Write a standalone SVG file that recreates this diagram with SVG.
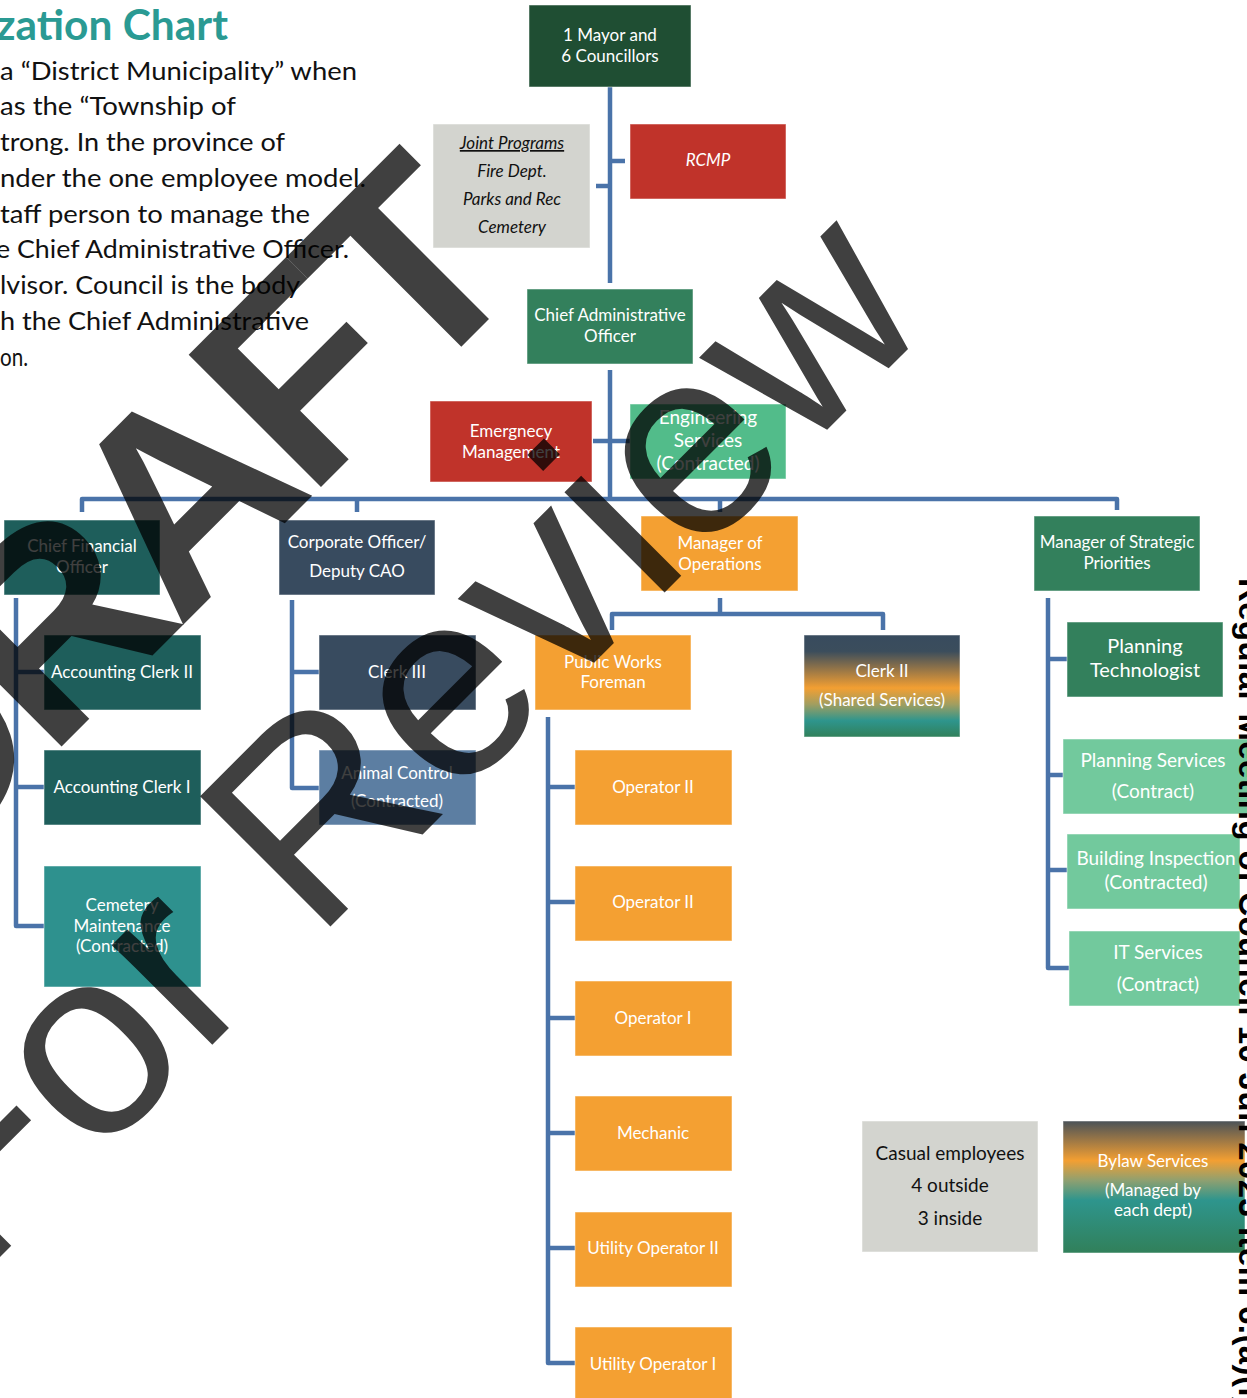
<svg xmlns="http://www.w3.org/2000/svg" width="1247" height="1398" viewBox="0 0 1247 1398">
<style>
.conn{fill:none;stroke:#4A73A9;stroke-width:4.5;stroke-linejoin:round}
.box{stroke:#ffffff;stroke-opacity:0.5;stroke-width:1}
.lbl{font-family:Lato,"Liberation Sans",sans-serif;font-size:17px;fill:#ffffff;text-anchor:middle}
.dark{fill:#111111}
.it{font-style:italic}
.para{font-family:Lato,"Liberation Sans",sans-serif;font-size:25px;fill:#111111}
.wm{font-family:"Liberation Sans",Arial,sans-serif;fill:#000000;fill-opacity:0.75}
</style>
<defs>
<linearGradient id="g-clerk2" x1="0" y1="0" x2="0" y2="1">
<stop offset="0" stop-color="#384B5E"/>
<stop offset="0.16" stop-color="#3B4D5C"/>
<stop offset="0.52" stop-color="#F39F32"/>
<stop offset="0.68" stop-color="#A19E60"/>
<stop offset="0.84" stop-color="#2E958D"/>
<stop offset="1" stop-color="#31805A"/>
</linearGradient>
<linearGradient id="g-bylaw" x1="0" y1="0" x2="0" y2="1">
<stop offset="0" stop-color="#4A5258"/>
<stop offset="0.3" stop-color="#F39F32"/>
<stop offset="0.45" stop-color="#8FA070"/>
<stop offset="0.6" stop-color="#2E958D"/>
<stop offset="1" stop-color="#31805A"/>
</linearGradient>
</defs>
<rect width="1247" height="1398" fill="#ffffff"/>

<g id="intro">
<text x="-4" y="40" textLength="232" lengthAdjust="spacingAndGlyphs" style="font-family:Lato,'Liberation Sans',sans-serif;font-weight:bold;font-size:42px;fill:#2A9A93">zation Chart</text>
<text class="para" x="0" y="80" textLength="357" lengthAdjust="spacingAndGlyphs">a “District Municipality” when</text>
<text class="para" x="0" y="115" textLength="236" lengthAdjust="spacingAndGlyphs">as the “Township of</text>
<text class="para" x="0" y="151" textLength="285" lengthAdjust="spacingAndGlyphs">trong. In the province of</text>
<text class="para" x="0" y="187" textLength="366" lengthAdjust="spacingAndGlyphs">nder the one employee model.</text>
<text class="para" x="0" y="223" textLength="310" lengthAdjust="spacingAndGlyphs">taff person to manage the</text>
<text class="para" x="-4" y="258" textLength="353" lengthAdjust="spacingAndGlyphs">e Chief Administrative Officer.</text>
<text class="para" x="0" y="294" textLength="300" lengthAdjust="spacingAndGlyphs">lvisor. Council is the body</text>
<text class="para" x="0" y="330" textLength="309" lengthAdjust="spacingAndGlyphs">h the Chief Administrative</text>
<text class="para" x="0" y="366" textLength="28" lengthAdjust="spacingAndGlyphs">on.</text>
</g>

<g id="connectors">
<path class="conn" d="M610,87 V283"/>
<path class="conn" d="M610,161 H625"/>
<path class="conn" d="M610,186 H596"/>
<path class="conn" d="M610,370 V499"/>
<path class="conn" d="M593,441 H630"/>
<path class="conn" d="M82,512 V499 H1117 V510"/>
<path class="conn" d="M357,499 V512"/>
<path class="conn" d="M720,499 V512"/>
<path class="conn" d="M16,598 V926 H44"/>
<path class="conn" d="M16,672 H44"/>
<path class="conn" d="M16,787 H44"/>
<path class="conn" d="M292,600 V788 H319"/>
<path class="conn" d="M292,672 H319"/>
<path class="conn" d="M720,598 V614"/>
<path class="conn" d="M612,630 V614 H883 V630"/>
<path class="conn" d="M548,717 V1363 H575"/>
<path class="conn" d="M548,787 H575"/>
<path class="conn" d="M548,902 H575"/>
<path class="conn" d="M548,1018 H575"/>
<path class="conn" d="M548,1133 H575"/>
<path class="conn" d="M548,1248 H575"/>
<path class="conn" d="M1048,598 V968 H1069"/>
<path class="conn" d="M1048,659 H1067"/>
<path class="conn" d="M1048,775 H1063"/>
<path class="conn" d="M1048,870 H1067"/>
</g>

<g id="n-mayor"><rect class="box" x="529" y="5" width="162" height="82" fill="#1F4E33"/>
<text class="lbl" x="610" y="41">1 Mayor and</text><text class="lbl" x="610" y="62">6 Councillors</text></g>

<g id="n-joint"><rect class="box" x="433" y="124" width="157" height="124" fill="#D3D4CF"/>
<text class="lbl dark it" x="512" y="149" text-decoration="underline">Joint Programs</text>
<text class="lbl dark it" x="512" y="177">Fire Dept.</text>
<text class="lbl dark it" x="512" y="205">Parks and Rec</text>
<text class="lbl dark it" x="512" y="233">Cemetery</text></g>

<g id="n-rcmp"><rect class="box" x="630" y="124" width="156" height="75" fill="#C0332A"/>
<text class="lbl it" x="708" y="166">RCMP</text></g>

<g id="n-cao"><rect class="box" x="527" y="289" width="166" height="75" fill="#33805C"/>
<text class="lbl" x="610" y="321">Chief Administrative</text><text class="lbl" x="610" y="342">Officer</text></g>

<g id="n-emergency"><rect class="box" x="430" y="401" width="162" height="81" fill="#C0332A"/>
<text class="lbl" x="511" y="437">Emergnecy</text><text class="lbl" x="511" y="458">Management</text></g>

<g id="n-engineering"><rect class="box" x="630" y="404" width="156" height="75" fill="#52BC8A"/>
<text class="lbl" x="708" y="424" style="font-size:19px">Engineering</text>
<text class="lbl" x="708" y="447" style="font-size:19px">Services</text>
<text class="lbl" x="708" y="470" style="font-size:19px">(Contracted)</text></g>

<g id="n-cfo"><rect class="box" x="4" y="520" width="156" height="75" fill="#1E5E5B"/>
<text class="lbl" x="82" y="552">Chief Financial</text><text class="lbl" x="82" y="573">Officer</text></g>

<g id="n-corporate"><rect class="box" x="279" y="520" width="156" height="75" fill="#384B5F"/>
<text class="lbl" x="357" y="548">Corporate Officer/</text><text class="lbl" x="357" y="577">Deputy CAO</text></g>

<g id="n-mgr-ops"><rect class="box" x="641" y="516" width="157" height="75" fill="#F4A032"/>
<text class="lbl" x="720" y="549">Manager of</text><text class="lbl" x="720" y="570">Operations</text></g>

<g id="n-mgr-strategic"><rect class="box" x="1034" y="516" width="166" height="75" fill="#33805C"/>
<text class="lbl" x="1117" y="548">Manager of Strategic</text><text class="lbl" x="1117" y="569">Priorities</text></g>

<g id="n-acct2"><rect class="box" x="44" y="635" width="157" height="75" fill="#1E5E5B"/>
<text class="lbl" x="122" y="678">Accounting Clerk II</text></g>

<g id="n-acct1"><rect class="box" x="44" y="750" width="157" height="75" fill="#1E5E5B"/>
<text class="lbl" x="122" y="793">Accounting Clerk I</text></g>

<g id="n-cemetery"><rect class="box" x="44" y="866" width="157" height="121" fill="#2E918E"/>
<text class="lbl" x="122" y="911">Cemetery</text><text class="lbl" x="122" y="932">Maintenance</text><text class="lbl" x="122" y="952">(Contracted)</text></g>

<g id="n-clerk3"><rect class="box" x="319" y="635" width="157" height="75" fill="#384B5F"/>
<text class="lbl" x="397" y="678">Clerk III</text></g>

<g id="n-animal"><rect class="box" x="319" y="750" width="157" height="75" fill="#5C7EA2"/>
<text class="lbl" x="397" y="779">Animal Control</text><text class="lbl" x="397" y="807">(Contracted)</text></g>

<g id="n-pwf"><rect class="box" x="535" y="635" width="156" height="75" fill="#F4A032"/>
<text class="lbl" x="613" y="668">Public Works</text><text class="lbl" x="613" y="688">Foreman</text></g>

<g id="n-clerk2"><rect class="box" x="804" y="635" width="156" height="102" fill="url(#g-clerk2)"/>
<text class="lbl" x="882" y="677">Clerk II</text><text class="lbl" x="882" y="706">(Shared Services)</text></g>

<g id="n-op1"><rect class="box" x="575" y="750" width="157" height="75" fill="#F4A032"/><text class="lbl" x="653" y="793">Operator II</text></g>
<g id="n-op2"><rect class="box" x="575" y="866" width="157" height="75" fill="#F4A032"/><text class="lbl" x="653" y="908">Operator II</text></g>
<g id="n-op3"><rect class="box" x="575" y="981" width="157" height="75" fill="#F4A032"/><text class="lbl" x="653" y="1024">Operator I</text></g>
<g id="n-mechanic"><rect class="box" x="575" y="1096" width="157" height="75" fill="#F4A032"/><text class="lbl" x="653" y="1139">Mechanic</text></g>
<g id="n-util2"><rect class="box" x="575" y="1212" width="157" height="75" fill="#F4A032"/><text class="lbl" x="653" y="1254">Utility Operator II</text></g>
<g id="n-util1"><rect class="box" x="575" y="1327" width="157" height="80" fill="#F4A032"/><text class="lbl" x="653" y="1370">Utility Operator I</text></g>

<g id="n-plantech"><rect class="box" x="1067" y="622" width="156" height="75" fill="#33805C"/>
<text class="lbl" x="1145" y="653" style="font-size:20px">Planning</text><text class="lbl" x="1145" y="677" style="font-size:20px">Technologist</text></g>

<g id="n-plansvc"><rect class="box" x="1063" y="739" width="190" height="75" fill="#72C99D"/>
<text class="lbl" x="1153" y="767" style="font-size:19px">Planning Services</text><text class="lbl" x="1153" y="798" style="font-size:19px">(Contract)</text></g>

<g id="n-building"><rect class="box" x="1067" y="834" width="173" height="75" fill="#72C99D"/>
<text class="lbl" x="1156" y="865" style="font-size:19px">Building Inspection</text><text class="lbl" x="1156" y="889" style="font-size:19px">(Contracted)</text></g>

<g id="n-it"><rect class="box" x="1069" y="931" width="171" height="75" fill="#72C99D"/>
<text class="lbl" x="1158" y="959" style="font-size:19px">IT Services</text><text class="lbl" x="1158" y="991" style="font-size:19px">(Contract)</text></g>

<g id="n-casual"><rect class="box" x="862" y="1121" width="176" height="131" fill="#D3D4CF"/>
<text class="lbl dark" x="950" y="1160" style="font-size:19px">Casual employees</text>
<text class="lbl dark" x="950" y="1192" style="font-size:19px">4 outside</text>
<text class="lbl dark" x="950" y="1225" style="font-size:19px">3 inside</text></g>

<g id="n-bylaw"><rect class="box" x="1063" y="1121" width="182" height="132" fill="url(#g-bylaw)"/>
<text class="lbl" x="1153" y="1167">Bylaw Services</text><text class="lbl" x="1153" y="1196">(Managed by</text><text class="lbl" x="1153" y="1216">each dept)</text></g>

<g id="page-stamp">
<text transform="translate(1239,578) rotate(90)" textLength="830" lengthAdjust="spacing" style="font-family:'Liberation Sans',Arial,sans-serif;font-weight:bold;font-size:33px;fill:#000000">Regular Meeting of Council 10 Jun 2023 Item 6.(a)(i)</text>
</g>

<g id="watermark">
<text class="wm" transform="translate(-81,889) rotate(-45)" style="font-size:272px;font-weight:bold;letter-spacing:-13px">DRAFT</text>
<text class="wm" transform="translate(-22,1279) rotate(-45)" style="font-size:268px">For Review</text>
</g>
</svg>
